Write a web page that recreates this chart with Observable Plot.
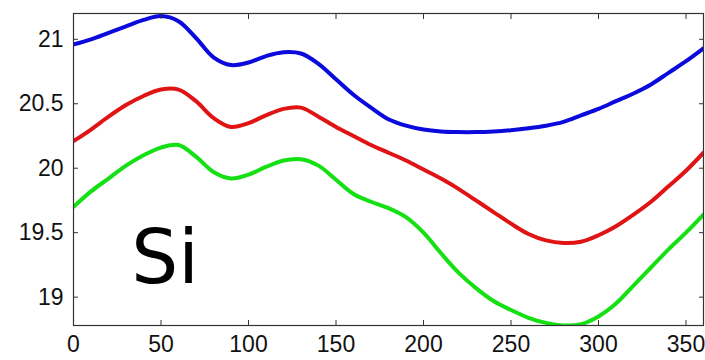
<!DOCTYPE html>
<html>
<head>
<meta charset="utf-8">
<script src="https://cdn.jsdelivr.net/npm/d3@7"></script>
<script src="https://cdn.jsdelivr.net/npm/@observablehq/plot@0.6"></script>
<style>
  html, body { margin: 0; padding: 0; background: #fff; }
</style>
</head>
<body>
<div id="chart"></div>
<script>
const xs = [0,10,20,30,40,50,60,70,80,90,100,110,120,130,140,150,160,170,180,190,200,210,220,230,240,250,260,270,280,290,300,310,320,330,340,350,360];
const blueLine = [20.96,21.00,21.05,21.10,21.15,21.18,21.14,21.01,20.86,20.80,20.82,20.87,20.90,20.89,20.81,20.69,20.57,20.47,20.38,20.33,20.30,20.285,20.28,20.28,20.285,20.295,20.31,20.33,20.36,20.41,20.46,20.52,20.58,20.65,20.74,20.83,20.93];
const redLine = [20.21,20.30,20.40,20.49,20.56,20.61,20.61,20.52,20.39,20.32,20.35,20.41,20.46,20.47,20.40,20.32,20.25,20.18,20.12,20.06,19.99,19.92,19.84,19.75,19.66,19.57,19.49,19.44,19.42,19.43,19.48,19.55,19.64,19.74,19.86,19.98,20.12];
const greenLine = [19.70,19.82,19.92,20.02,20.10,20.16,20.18,20.09,19.97,19.92,19.95,20.01,20.06,20.07,20.02,19.91,19.80,19.74,19.69,19.62,19.50,19.34,19.19,19.07,18.97,18.90,18.84,18.80,18.78,18.79,18.85,18.95,19.09,19.23,19.37,19.50,19.64];
const seriesNames = ["upper", "middle", "lower"];
const seriesColors = ["#0a0adc", "#e01414", "#14e014"];
const xTicks = [0,50,100,150,200,250,300,350];
const yTicks = [19,19.5,20,20.5,21];
const label = {text: "Si", x: 33, y: 19.11};

const rows = [];
[blueLine, redLine, greenLine].forEach((vals, i) => {
  vals.forEach((v, j) => rows.push({series: seriesNames[i], x: xs[j], y: v}));
});

const font = "Liberation Sans, Arial, sans-serif";
const plot = Plot.plot({
  width: 705,
  height: 360,
  marginLeft: 73,
  marginRight: 2,
  marginTop: 13,
  marginBottom: 35,
  style: {fontFamily: font, fontSize: "23px", background: "#fff", color: "#111"},
  x: {domain: [0, 360]},
  y: {domain: [18.78, 21.2]},
  color: {domain: seriesNames, range: seriesColors},
  marks: [
    Plot.line(rows, {x: "x", y: "y", z: "series", stroke: "series", strokeWidth: 4, curve: "catmull-rom", clip: true}),
    Plot.frame({stroke: "#333", strokeWidth: 1.2}),
    Plot.axisX({ticks: xTicks, tickSize: -5, tickPadding: 15, tickFormat: d => String(d), label: null, stroke: "#333"}),
    Plot.axisX({ticks: xTicks, anchor: "top", tickSize: -5, text: null, label: null, stroke: "#333"}),
    Plot.axisY({ticks: yTicks, tickSize: -5, tickPadding: 15, tickFormat: d => String(d), label: null, stroke: "#333"}),
    Plot.axisY({ticks: yTicks, anchor: "right", tickSize: -5, text: null, label: null, stroke: "#333"}),
    Plot.text([label], {x: "x", y: "y", text: "text", textAnchor: "start", lineAnchor: "bottom", fontSize: 74, fontFamily: "Comic Sans MS, DejaVu Sans, sans-serif", fill: "#000"})
  ]
});
document.getElementById("chart").appendChild(plot);
</script>
</body>
</html>
